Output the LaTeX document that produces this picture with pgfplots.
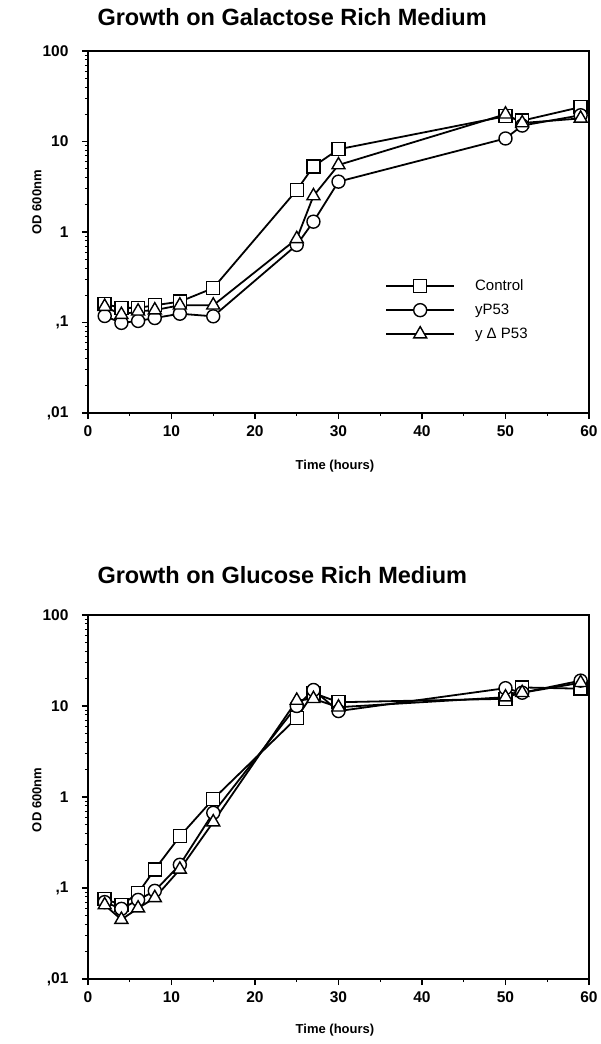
\documentclass[border=0pt]{standalone}
\usepackage{fontspec}
\setmainfont{Liberation Sans}
\usepackage{pgfplots}
\pgfplotsset{compat=1.18}

\pgfplotsset{
  every axis/.append style={
    scale only axis,
    width=501pt,
    xmin=0, xmax=60, ymin=0.01, ymax=100,
    xtick={0,10,...,60},
    minor x tick num=1,
    ytick={0.01,0.1,1,10,100},
    yticklabels={{,01},{,1},1,10,100},
    tick align=outside,
    xtick pos=bottom, ytick pos=left,
    major tick length=6pt, minor tick length=3pt,
    axis line style={line width=1.5pt},
    tick style={black, line width=1.2pt},
    minor tick style={line width=0.8pt},
    tick label style={font=\fontsize{15.5}{15.5}\selectfont\bfseries},
    xticklabel style={yshift=-3pt},
    yticklabel style={xshift=-10pt},
    xlabel style={font=\fontsize{13}{13}\selectfont\bfseries},
    ylabel style={font=\fontsize{13}{13}\selectfont\bfseries},
    title style={font=\fontsize{23.5}{23.5}\selectfont\bfseries},
  },
  every axis plot/.append style={black, line width=1.8pt,
    mark options={line width=1.4pt, fill=white, solid}},
  /pgf/number format/assume math mode=true,
}

\begin{document}
\begin{tikzpicture}
  \useasboundingbox (0,0) rectangle (600pt,1044pt);

  % Galactose
  \begin{semilogyaxis}[
    at={(88pt,631pt)}, anchor=south west, height=362pt,
    title={Growth on Galactose Rich Medium},
    title style={at={(axis description cs:0.012,1)}, anchor=base west, yshift=19pt},
    xlabel={Time (hours)},
    xlabel style={at={(axis description cs:0.493,-0.147)}, anchor=center},
    ylabel={OD 600nm},
    ylabel style={at={(axis description cs:-0.102,0.582)}, anchor=center},
    legend cell align=left,
    legend style={at={(axis description cs:0.593,0.374)}, anchor=north west,
      draw=none, fill=none, inner sep=0pt, row sep=8pt,
      font=\fontsize{15}{17}\selectfont,
      /tikz/every odd column/.append style={column sep=18pt}},
    legend image code/.code={
      \draw[mark repeat=2, mark phase=2]
        plot coordinates {(0pt,0pt) (34pt,0pt) (68pt,0pt)};
    },
  ]
    \addplot[mark=square*, mark size=6.5pt] coordinates {
      (2,0.16) (4,0.145) (6,0.145) (8,0.155) (11,0.17) (15,0.24)
      (25,2.9) (27,5.3) (30,8.2) (50,19) (52,17) (59,24)
    };
    \addlegendentry{Control}
    \addplot[mark=*, mark size=6.5pt] coordinates {
      (2,0.118) (4,0.099) (6,0.104) (8,0.112) (11,0.125) (15,0.117)
      (25,0.72) (27,1.3) (30,3.6) (50,10.8) (52,15) (59,19.5)
    };
    \addlegendentry{yP53}
    \addplot[mark=triangle*, mark size=7.5pt] coordinates {
      (2,0.15) (4,0.122) (6,0.133) (8,0.137) (11,0.155) (15,0.155)
      (25,0.84) (27,2.5) (30,5.5) (50,20) (52,16) (59,18)
    };
    \addlegendentry{y Δ P53}
  \end{semilogyaxis}

  % Glucose
  \begin{semilogyaxis}[
    at={(88pt,65pt)}, anchor=south west, height=364pt,
    title={Growth on Glucose Rich Medium},
    title style={at={(axis description cs:0.012,1)}, anchor=base west, yshift=26pt},
    xlabel={Time (hours)},
    xlabel style={at={(axis description cs:0.493,-0.14)}, anchor=center},
    ylabel={OD 600nm},
    ylabel style={at={(axis description cs:-0.102,0.492)}, anchor=center},
  ]
    \addplot[mark=square*, mark size=6.5pt] coordinates {
      (2,0.076) (4,0.065) (6,0.088) (8,0.16) (11,0.37) (15,0.95)
      (25,7.4) (27,13.9) (30,11) (50,12) (52,16) (59,15.5)
    };
    \addplot[mark=*, mark size=6.5pt] coordinates {
      (2,0.07) (4,0.059) (6,0.074) (8,0.093) (11,0.18) (15,0.67)
      (25,10) (27,15) (30,8.8) (50,15.7) (52,14) (59,19)
    };
    \addplot[mark=triangle*, mark size=7.5pt] coordinates {
      (2,0.065) (4,0.045) (6,0.06) (8,0.078) (11,0.16) (15,0.53)
      (25,11.5) (27,12) (30,9.7) (50,12.5) (52,14) (59,18)
    };
  \end{semilogyaxis}
\end{tikzpicture}
\end{document}
